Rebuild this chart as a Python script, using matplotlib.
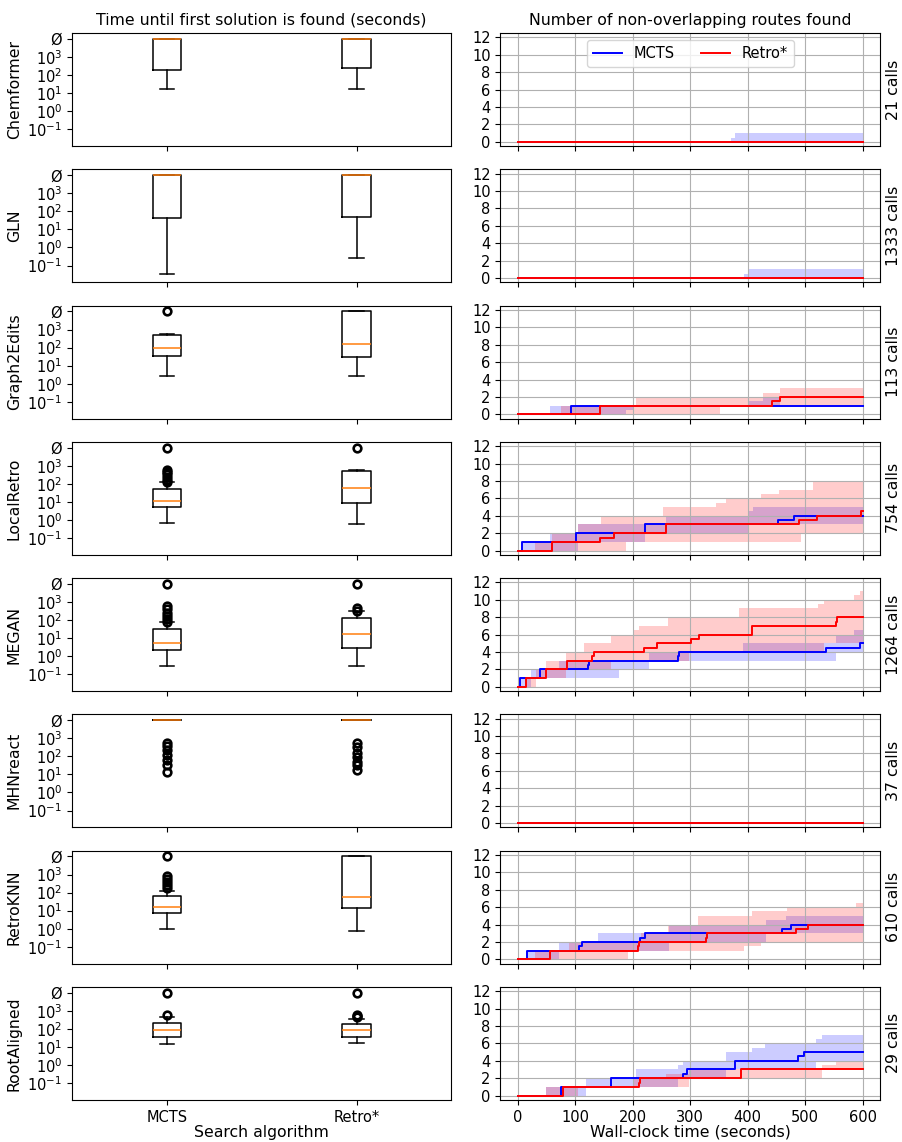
import matplotlib
matplotlib.use("Agg")
import matplotlib.pyplot as plt
import numpy as np

MODELS = ["Chemformer", "GLN", "Graph2Edits", "LocalRetro", "MEGAN", "MHNreact", "RetroKNN", "RootAligned"]
CALLS = [21, 1333, 113, 754, 1264, 37, 610, 29]
ALGOS = ["MCTS", "Retro*"]
NOSOL = 1e4  # value used for "no solution found" (shown as Ø)

# ---------- Left column: box statistics (whislo, q1, med, q3, whishi, fliers) ----------
BOX_MCTS = [
    (16.6, 190, 1e4, 1e4, 1e4, []),
    (0.033, 45, 1e4, 1e4, 1e4, []),
    (2.7, 35, 95, 500, 600, [1e4]),
    (0.68, 5.5, 11.5, 49, 123, [130, 170, 250, 350, 450, 580, 1e4]),
    (0.30, 2.1, 5.7, 33, 74, [80, 110, 160, 250, 400, 600, 1e4]),
    (1e4, 1e4, 1e4, 1e4, 1e4, [14, 33, 63, 117, 224, 372, 525]),
    (0.95, 7.8, 16.6, 65, 130, [175, 260, 400, 550, 780, 1e4]),
    (15, 37, 81, 224, 480, [560, 1e4]),
]
BOX_RETRO = [
    (18, 245, 1e4, 1e4, 1e4, []),
    (0.245, 50, 1e4, 1e4, 1e4, []),
    (2.7, 30, 155, 1e4, 1e4, []),
    (0.63, 8.7, 60, 520, 580, [1e4]),
    (0.29, 2.7, 16, 130, 300, [320, 450, 1e4]),
    (1e4, 1e4, 1e4, 1e4, 1e4, [17, 33, 50, 96, 148, 347, 525]),
    (0.74, 14, 60, 1e4, 1e4, []),
    (17, 37, 81, 175, 350, [450, 520, 600, 1e4]),
]

# ---------- Right column: step curves, (time, value) break points ----------
# median curves
MED_MCTS = [
    [(0, 0)],
    [(0, 0)],
    [(0, 0), (92, 1)],
    [(0, 0), (8, 1), (102, 2), (222, 3), (452, 3.5), (480, 4)],
    [(0, 0), (4, 1), (39, 2), (122, 2.5), (124, 3), (278, 3.5), (281, 4), (536, 4.5), (596, 5)],
    [(0, 0)],
    [(0, 0), (16, 1), (106, 1.5), (111, 2), (213, 2.5), (222, 3), (460, 3.5), (475, 4)],
    [(0, 0), (75, 1), (162, 2), (288, 2.5), (295, 3), (378, 4), (487, 4.5), (498, 5)],
]
MED_RETRO = [
    [(0, 0)],
    [(0, 0)],
    [(0, 0), (143, 1), (442, 1.5), (457, 2)],
    [(0, 0), (60, 1), (143, 1.5), (168, 2), (258, 3), (490, 3.5), (520, 4), (597, 4.5)],
    [(0, 0), (14, 1), (50, 2), (85, 3), (130, 3.5), (133, 4), (220, 4.5), (243, 5), (301, 5.5),
     (316, 6), (407, 7), (554, 7.5), (556, 8)],
    [(0, 0)],
    [(0, 0), (56, 1), (209, 1.5), (211, 2), (327, 2.5), (330, 3), (484, 3.5), (504, 4)],
    [(0, 0), (78, 1), (211, 1.5), (213, 2), (388, 3)],
]
# inter-quantile bands: (time, low, high)
BAND_MCTS = [
    [(0, 0, 0), (371, 0, 0.5), (378, 0, 1)],
    [(0, 0, 0), (394, 0, 0.5), (400, 0, 1)],
    [(0, 0, 0), (57, 0, 1), (188, 0.5, 1), (200, 1, 1), (400, 1, 1.5), (426, 1, 2), (457, 1, 1)],
    [(0, 0, 0), (8, 0, 1), (57, 0, 2), (104, 1, 3), (222, 2, 3), (258, 2, 4), (400, 3, 4.5), (410, 3, 5)],
    [(0, 0, 0), (4, 0, 1), (23, 1, 2), (72, 1, 3), (176, 2, 3), (229, 3, 4), (391, 3, 5), (554, 4, 6), (585, 4, 6.5)],
    [(0, 0, 0)],
    [(0, 0, 0), (16, 0, 1), (72, 1, 2), (139, 1, 3), (263, 2, 4), (432, 3, 4.5), (467, 3, 5)],
    [(0, 0, 0), (50, 0, 1), (118, 1, 2), (205, 1, 3), (278, 2, 3.5), (288, 2, 4), (362, 3, 5),
     (408, 3, 5.5), (430, 3, 6), (518, 4, 6.5), (530, 4, 7)],
]
BAND_RETRO = [
    [(0, 0, 0)],
    [(0, 0, 0)],
    [(0, 0, 0), (75, 0, 1), (206, 0, 2), (351, 1, 2), (426, 1, 2.5), (457, 1, 3)],
    [(0, 0, 0), (30, 0, 1), (60, 0, 2), (104, 0, 3), (144, 0, 4), (188, 1, 4), (252, 1, 5),
     (345, 1, 5.5), (362, 1, 6), (423, 1, 6.5), (455, 1, 7), (493, 2, 7), (513, 2, 8)],
    [(0, 0, 0), (14, 0, 1), (31, 1, 2), (49, 1, 3), (84, 2, 4), (115, 2, 5), (162, 3, 6), (203, 3, 6.5),
     (211, 3, 7), (261, 3, 8), (298, 4, 8), (385, 4, 9), (522, 4, 9.5), (533, 5, 10), (585, 5, 10.5), (596, 5, 11)],
    [(0, 0, 0)],
    [(0, 0, 0), (30, 0, 1), (89, 0, 2), (191, 1, 2), (214, 1, 3), (262, 1, 4), (313, 1, 5),
     (394, 1.5, 5), (408, 1.5, 5.5), (423, 2, 5.5), (469, 2, 6), (588, 2, 6.5)],
    [(0, 0, 0), (50, 0, 1), (105, 1, 1), (200, 1, 2), (258, 1, 2.5), (298, 2, 3), (420, 2, 3), (530, 3, 3.5), (554, 3, 4)],
]

T_END = 600
BLUE, RED = "blue", "red"


def expand(points):
    t = [p[0] for p in points] + [T_END]
    cols = list(zip(*[p[1:] for p in points]))
    cols = [list(c) + [c[-1]] for c in cols]
    return np.array(t, float), [np.array(c, float) for c in cols]


fig, axes = plt.subplots(8, 2, figsize=(9.03, 11.42), dpi=100)
fig.subplots_adjust(left=0.0797, right=0.9745, top=0.9711, bottom=0.0368, wspace=0.129, hspace=0.2035)

TICK_FS = 10.5
LAB_FS = 11.3
FLIER = dict(marker="o", markerfacecolor="none", markeredgecolor="black", markersize=5.5, markeredgewidth=1.9)

for i, model in enumerate(MODELS):
    axl, axr = axes[i]
    stats = []
    for name, b in zip(ALGOS, (BOX_MCTS[i], BOX_RETRO[i])):
        stats.append(dict(whislo=b[0], q1=b[1], med=b[2], q3=b[3], whishi=b[4], fliers=b[5], label=name))
    axl.bxp(stats, positions=[1, 2], showfliers=True, flierprops=FLIER,
            boxprops=dict(linewidth=1.1), whiskerprops=dict(linewidth=1.1), capprops=dict(linewidth=1.1),
            medianprops=dict(linewidth=1.1, color="C1"))
    axl.set_yscale("log")
    axl.set_ylim(0.0115, 21400)
    axl.set_yticks([1e-1, 1e0, 1e1, 1e2, 1e3, NOSOL])
    axl.set_yticklabels([r"$10^{-1}$", r"$10^{0}$", r"$10^{1}$", r"$10^{2}$", r"$10^{3}$", "Ø"])
    axl.yaxis.set_minor_locator(matplotlib.ticker.NullLocator())
    axl.set_xlim(0.5, 2.5)
    axl.set_xticks([1, 2])
    axl.set_ylabel(model, fontsize=LAB_FS)
    axl.tick_params(labelsize=TICK_FS)
    if i < 7:
        axl.set_xticklabels([])
    else:
        axl.set_xticklabels(ALGOS)
        axl.set_xlabel("Search algorithm", fontsize=LAB_FS, labelpad=0)

    # right panel
    for band, col in ((BAND_MCTS[i], BLUE), (BAND_RETRO[i], RED)):
        t, (lo, hi) = expand(band)
        axr.fill_between(t, lo, hi, step="post", color=col, alpha=0.2, linewidth=0)
    for med, col, name in ((MED_MCTS[i], BLUE, "MCTS"), (MED_RETRO[i], RED, "Retro*")):
        t, (v,) = expand(med)
        axr.plot(t, v, drawstyle="steps-post", color=col, lw=1.4, label=name)
    axr.set_xlim(-30, 630)
    axr.set_ylim(-0.5, 12.5)
    axr.set_yticks(range(0, 13, 2))
    axr.set_xticks(range(0, 601, 100))
    axr.grid(True)
    axr.tick_params(labelsize=TICK_FS)
    axr.yaxis.set_label_position("right")
    axr.set_ylabel(f"{CALLS[i]} calls", fontsize=LAB_FS)
    if i < 7:
        axr.set_xticklabels([])
    else:
        axr.set_xlabel("Wall-clock time (seconds)", fontsize=LAB_FS, labelpad=0)
    if i == 0:
        axr.legend(loc="upper center", ncol=2, fontsize=TICK_FS, handlelength=2.0, columnspacing=1.8)

axes[0, 0].set_title("Time until first solution is found (seconds)", fontsize=LAB_FS)
axes[0, 1].set_title("Number of non-overlapping routes found", fontsize=LAB_FS)

fig.savefig("out.png", dpi=100)
